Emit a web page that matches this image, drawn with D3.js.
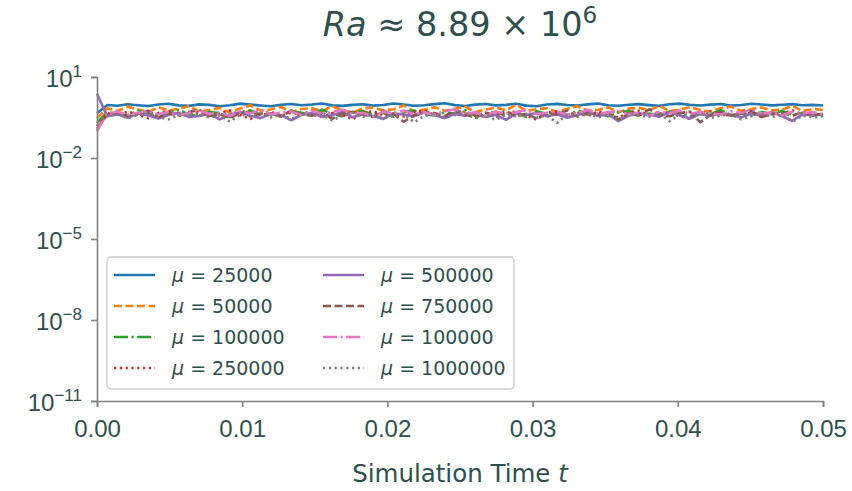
<!DOCTYPE html>
<html>
<head>
<meta charset="utf-8">
<script src="https://cdn.jsdelivr.net/npm/d3@7"></script>
<style>
    body { margin: 0; background: #fff; }
    svg { font-family: "DejaVu Sans", sans-serif; }
</style>
</head>
<body>
<div id="container"></div>
<script>
// legend labels (the 7th one really says 100000 in the original)
const muLabels = ["25000", "50000", "100000", "250000", "500000", "750000", "100000", "1000000"]
const xTicks = [0, 0.01, 0.02, 0.03, 0.04, 0.05]
const yTicks = [1e1, 1e-2, 1e-5, 1e-8, 1e-11]
const yExponents = ["1", "\u22122", "\u22125", "\u22128", "\u221211"]
const tEnd = 0.05

// series values (evenly spaced samples in t)
const mu25000 = [0.45, 0.92, 0.86, 0.98, 0.9, 0.84, 0.96, 1.02, 0.89, 0.85,
    0.97, 0.93, 0.83, 0.9, 1.03, 0.95, 0.88, 0.82, 0.94, 1.0,
    0.9, 0.96, 1.05, 0.89, 0.85, 0.93, 0.98, 0.87, 0.92, 1.04,
    0.96, 0.86, 0.9, 0.99, 1.07, 0.91, 0.84, 0.95, 1.0, 0.89,
    0.93, 1.02, 0.87, 0.83, 0.96, 1.01, 0.92, 0.88, 0.97, 1.04,
    0.9, 0.86, 0.94, 0.99, 0.91, 0.85, 0.98, 1.03, 0.93, 0.88,
    0.95, 1.0, 0.87, 0.92, 1.02, 0.96, 0.89, 0.94, 0.99, 0.9,
    0.93, 0.88]
const mu50000 = [0.3, 0.7, 0.55, 0.8, 0.62, 0.5, 0.75, 0.58, 0.66, 0.85,
    0.52, 0.6, 0.72, 0.48, 0.68, 0.9, 0.57, 0.63, 0.78, 0.5,
    0.65, 0.7, 0.55, 0.82, 0.6, 0.47, 0.69, 0.74, 0.58, 0.64,
    0.88, 0.53, 0.61, 0.76, 0.56, 0.67, 0.8, 0.5, 0.62, 0.73,
    0.59, 0.92, 0.55, 0.64, 0.7, 0.51, 0.66, 0.83, 0.57, 0.6,
    0.75, 0.49, 0.68, 0.72, 0.58, 0.86, 0.54, 0.63, 0.77, 0.6,
    0.52, 0.69, 0.8, 0.56, 0.65, 0.74, 0.58, 0.62, 0.85, 0.55,
    0.66, 0.6]
const mu100000 = [0.2, 0.5, 0.42, 0.38, 0.55, 0.46, 0.35, 0.48, 0.6, 0.41,
    0.37, 0.52, 0.45, 0.33, 0.5, 0.58, 0.4, 0.44, 0.36, 0.53,
    0.47, 0.39, 0.62, 0.43, 0.35, 0.49, 0.55, 0.4, 0.46, 0.34,
    0.51, 0.57, 0.42, 0.38, 0.48, 0.44, 0.6, 0.36, 0.45, 0.52,
    0.39, 0.47, 0.33, 0.54, 0.43, 0.5, 0.37, 0.58, 0.41, 0.46,
    0.35, 0.49, 0.56, 0.4, 0.44, 0.38, 0.53, 0.47, 0.34, 0.51,
    0.42, 0.59, 0.39, 0.45, 0.36, 0.5, 0.43, 0.55, 0.4, 0.47,
    0.37, 0.44]
const mu250000 = [0.15, 0.46, 0.38, 0.52, 0.41, 0.3, 0.47, 0.55, 0.36, 0.43,
    0.5, 0.34, 0.45, 0.58, 0.39, 0.28, 0.44, 0.51, 0.37, 0.48,
    0.42, 0.56, 0.33, 0.46, 0.4, 0.27, 0.49, 0.53, 0.38, 0.44,
    0.35, 0.5, 0.57, 0.41, 0.29, 0.45, 0.52, 0.39, 0.47, 0.34,
    0.43, 0.55, 0.37, 0.26, 0.48, 0.51, 0.4, 0.46, 0.36, 0.53,
    0.42, 0.31, 0.49, 0.56, 0.38, 0.44, 0.5, 0.35, 0.28, 0.47,
    0.54, 0.41, 0.37, 0.52, 0.45, 0.33, 0.49, 0.43, 0.58, 0.39,
    0.46, 0.4]
const mu500000 = [2.4, 0.35, 0.42, 0.31, 0.45, 0.38, 0.29, 0.4, 0.47, 0.33,
    0.36, 0.44, 0.27, 0.41, 0.49, 0.37, 0.3, 0.43, 0.39, 0.25,
    0.4, 0.46, 0.34, 0.38, 0.51, 0.32, 0.42, 0.36, 0.28, 0.45,
    0.41, 0.35, 0.48, 0.39, 0.3, 0.43, 0.37, 0.5, 0.33, 0.4,
    0.26, 0.44, 0.38, 0.47, 0.35, 0.42, 0.31, 0.39, 0.52, 0.36,
    0.41, 0.23, 0.37, 0.45, 0.4, 0.34, 0.48, 0.38, 0.29, 0.43,
    0.36, 0.46, 0.4, 0.32, 0.44, 0.37, 0.5, 0.35, 0.24, 0.41,
    0.38, 0.42]
const mu750000 = [0.12, 0.4, 0.48, 0.35, 0.43, 0.56, 0.32, 0.45, 0.38, 0.5,
    0.62, 0.36, 0.42, 0.3, 0.47, 0.53, 0.39, 0.44, 0.34, 0.58,
    0.41, 0.37, 0.49, 0.28, 0.45, 0.52, 0.4, 0.33, 0.55, 0.43,
    0.22, 0.38, 0.5, 0.46, 0.35, 0.6, 0.41, 0.31, 0.47, 0.39,
    0.54, 0.36, 0.44, 0.29, 0.48, 0.42, 0.57, 0.34, 0.45, 0.4,
    0.5, 0.27, 0.43, 0.38, 0.63, 0.41, 0.35, 0.46, 0.52, 0.21,
    0.4, 0.48, 0.37, 0.44, 0.55, 0.33, 0.42, 0.47, 0.36, 0.51,
    0.39, 0.43]
const mu100000b = [0.1, 0.44, 0.52, 0.4, 0.47, 0.55, 0.42, 0.5, 0.38, 0.46,
    0.58, 0.43, 0.49, 0.36, 0.53, 0.45, 0.6, 0.41, 0.48, 0.52,
    0.39, 0.56, 0.44, 0.5, 0.62, 0.42, 0.47, 0.35, 0.51, 0.46,
    0.57, 0.43, 0.49, 0.4, 0.54, 0.64, 0.45, 0.48, 0.37, 0.52,
    0.44, 0.5, 0.59, 0.42, 0.47, 0.53, 0.39, 0.46, 0.61, 0.43,
    0.49, 0.55, 0.41, 0.48, 0.36, 0.52, 0.45, 0.58, 0.43, 0.5,
    0.47, 0.4, 0.54, 0.46, 0.63, 0.44, 0.49, 0.38, 0.52, 0.45,
    0.5, 0.42]
const mu1000000 = [0.2, 0.36, 0.42, 0.3, 0.39, 0.45, 0.33, 0.27, 0.4, 0.37,
    0.44, 0.31, 0.38, 0.22, 0.41, 0.35, 0.46, 0.32, 0.39, 0.28,
    0.43, 0.36, 0.4, 0.25, 0.37, 0.48, 0.34, 0.41, 0.29, 0.38,
    0.44, 0.21, 0.36, 0.42, 0.33, 0.39, 0.47, 0.3, 0.37, 0.26,
    0.4, 0.35, 0.43, 0.31, 0.38, 0.2, 0.41, 0.36, 0.45, 0.32,
    0.39, 0.28, 0.42, 0.37, 0.34, 0.46, 0.23, 0.4, 0.35, 0.43,
    0.3, 0.38, 0.41, 0.27, 0.36, 0.44, 0.33, 0.39, 0.22, 0.37,
    0.32, 0.35]

const allSeries = [mu25000, mu50000, mu100000, mu250000, mu500000, mu750000, mu100000b, mu1000000]

function Chart(config) {
    const margin = config.margin
    const width = config.width - margin.left - margin.right
    const height = config.height - margin.top - margin.bottom
    const textColor = config.styles.text
    const axisColor = config.styles.axis

    const svg = d3.select(config.container)
        .append("svg")
        .attr("width", config.width)
        .attr("height", config.height)

    const g = svg.append("g")
        .attr("transform", `translate(${margin.left}, ${margin.top})`)

    const x = d3.scaleLinear().domain([0, tEnd]).range([0, width])
    const y = d3.scaleLog().domain([1e-11, 1e1]).range([height, 0])

    /* DATA LINES */
    const line = d3.line()
        .x(d => x(d.t))
        .y(d => y(d.v))

    allSeries.forEach((values, i) => {
        const step = tEnd / (values.length - 1)
        const pts = values.map((v, j) => ({ t: j * step, v: v }))
        g.append("path")
            .datum(pts)
            .attr("fill", "none")
            .attr("stroke", config.colors[i])
            .attr("stroke-width", config.styles.lineWidth)
            .attr("stroke-dasharray", config.dashes[i % 4])
            .attr("stroke-linejoin", "round")
            .attr("d", line)
    })

    /* X AXIS */
    const xAxis = g.append("g")
        .attr("transform", `translate(0, ${height})`)
        .call(d3.axisBottom(x).tickValues(xTicks).tickFormat(d3.format(".2f")).tickSizeOuter(0).tickSize(6).tickPadding(13))
    xAxis.select(".domain").attr("stroke", axisColor).attr("stroke-width", 1.6)
    xAxis.selectAll(".tick line").attr("stroke", axisColor).attr("stroke-width", 1.6)
    xAxis.selectAll(".tick text")
        .attr("fill", textColor)
        .style("font-size", "24px")

    /* Y AXIS */
    const yAxis = g.append("g")
        .call(d3.axisLeft(y).tickValues(yTicks).tickFormat("").tickSizeOuter(0).tickSize(6))
    yAxis.select(".domain").attr("stroke", axisColor).attr("stroke-width", 1.6)
    yAxis.selectAll(".tick line").attr("stroke", axisColor).attr("stroke-width", 1.6)
    yAxis.selectAll(".tick")
        .append("text")
        .attr("x", -15)
        .attr("y", 9)
        .attr("text-anchor", "end")
        .attr("fill", textColor)
        .style("font-size", "24px")
        .each(function(d, i) {
            const t = d3.select(this)
            t.append("tspan").text("10")
            t.append("tspan")
                .attr("dy", -10)
                .style("font-size", "17px")
                .text(yExponents[i])
        })

    /* TITLE */
    const title = svg.append("text")
        .attr("x", margin.left + width / 2)
        .attr("y", 36)
        .attr("text-anchor", "middle")
        .attr("fill", textColor)
        .style("font-size", "33.5px")
    title.append("tspan").style("font-style", "italic").text("Ra")
    title.append("tspan").text(" \u2248 8.89 \u00d7 10")
    title.append("tspan").attr("dy", -13).style("font-size", "23px").text("6")

    /* X LABEL */
    const xLabel = svg.append("text")
        .attr("x", margin.left + width / 2)
        .attr("y", 482)
        .attr("text-anchor", "middle")
        .attr("fill", textColor)
        .style("font-size", "24.5px")
    xLabel.append("tspan").text("Simulation Time ")
    xLabel.append("tspan").style("font-style", "italic").text("t")

    /* LEGEND */
    const legend = g.append("g")
        .attr("transform", `translate(${config.legend.x - margin.left}, ${config.legend.y - margin.top})`)
    legend.append("rect")
        .attr("width", config.legend.w)
        .attr("height", config.legend.h)
        .attr("rx", 4)
        .attr("fill", "white")
        .attr("fill-opacity", 0.85)
        .attr("stroke", "#cccccc")
        .attr("stroke-width", 1.4)

    muLabels.forEach((label, i) => {
        const col = Math.floor(i / 4)
        const row = i % 4
        const item = legend.append("g")
            .attr("transform", `translate(${7 + col * 209}, ${18 + row * 31})`)
        item.append("line")
            .attr("x1", 0)
            .attr("x2", 41)
            .attr("stroke", config.colors[i])
            .attr("stroke-width", config.styles.lineWidth)
            .attr("stroke-dasharray", config.dashes[i % 4])
        const t = item.append("text")
            .attr("x", 58)
            .attr("y", 7)
            .attr("fill", textColor)
            .style("font-size", "19px")
        t.append("tspan").style("font-style", "italic").text("\u03bc")
        t.append("tspan").text(" = " + label)
    })
}

Chart({
    container: "#container",
    width: 852,
    height: 491,
    margin: { top: 77, right: 29, bottom: 90, left: 97 },
    colors: ["#1f77b4", "#ff7f0e", "#2ca02c", "#d62728", "#9467bd", "#8c564b", "#e377c2", "#7f7f7f"],
    dashes: ["none", "8,3.5", "14,3.5,2.2,3.5", "2.2,3.6"],
    legend: { x: 107, y: 257, w: 407, h: 132 },
    styles: {
        text: "#2f4f4f",
        axis: "#808080",
        lineWidth: 2.6
    }
})
</script>
</body>
</html>
